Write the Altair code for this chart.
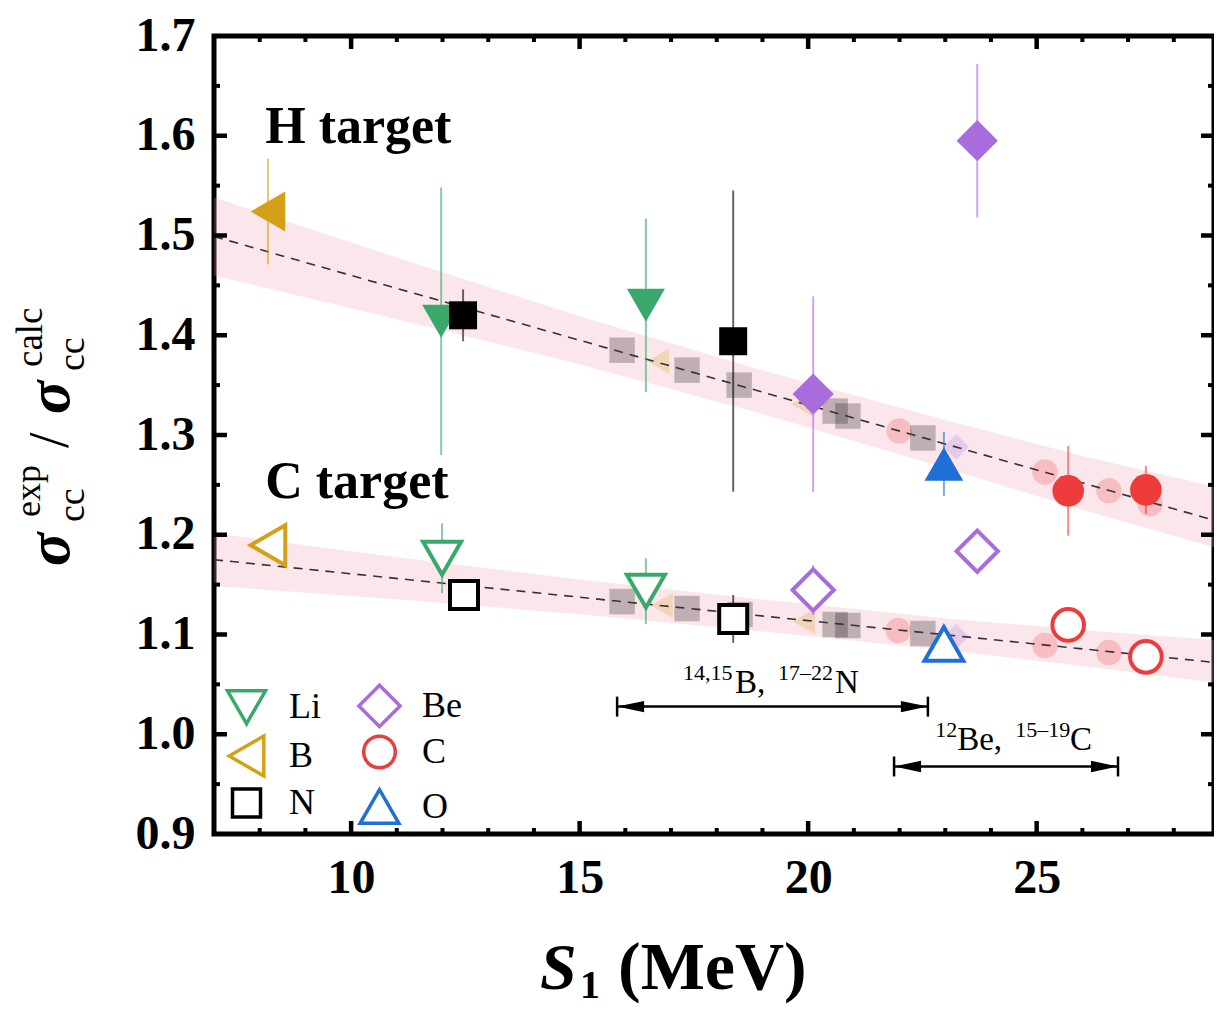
import altair as alt
import pandas as pd

# ---------------- data ----------------
elements = ["Li", "Be", "B", "C", "N", "O"]
el_colors = ["#38a86b", "#a86cdc", "#d4a017", "#ee3b3b", "#000000", "#1f6fd6"]
el_shapes = ["triangle-down", "diamond", "triangle-left", "circle", "square", "triangle-up"]
el_sizes = [1444, 1700, 1600, 1000, 784, 1500]

# H target (filled symbols)
h_el = ["B", "Li", "N", "Li", "N", "Be", "Be", "O", "C", "C"]
h_s1 = [8.18, 11.97, 12.45, 16.45, 18.36, 20.11, 23.70, 22.97, 25.69, 27.39]
h_val = [1.524, 1.414, 1.420, 1.430, 1.394, 1.341, 1.595, 1.271, 1.244, 1.245]
h_err = [0.053, 0.134, 0.026, 0.087, 0.151, 0.098, 0.077, 0.032, 0.045, 0.024]

# C target (open symbols)
c_el = ["B", "Li", "N", "Li", "N", "Be", "Be", "O", "C", "C"]
c_s1 = [8.18, 11.99, 12.47, 16.45, 18.36, 20.11, 23.70, 22.97, 25.69, 27.39]
c_val = [1.1895, 1.1765, 1.1396, 1.1435, 1.1156, 1.1446, 1.1835, 1.0906, 1.1096, 1.0776]
c_err = [0.0, 0.035, 0.010, 0.033, 0.024, 0.025, 0.0, 0.0, 0.0, 0.015]

# faded (calculated) points
fh_el = ["N", "B", "N", "N", "B", "N", "N", "C", "N", "Be", "C", "C", "C"]
fh_s1 = [15.93, 16.72, 17.35, 18.49, 19.87, 20.59, 20.87, 21.99, 22.51, 23.24, 25.18, 26.58, 27.48]
fh_val = [1.385, 1.374, 1.365, 1.350, 1.331, 1.324, 1.319, 1.304, 1.297, 1.288, 1.263, 1.244, 1.231]
fc_el = ["N", "B", "N", "N", "B", "N", "N", "C", "N", "Be", "C", "C"]
fc_s1 = [15.93, 16.80, 17.35, 18.51, 19.91, 20.59, 20.87, 21.97, 22.51, 23.24, 25.18, 26.58]
fc_val = [1.133, 1.129, 1.126, 1.120, 1.113, 1.110, 1.109, 1.104, 1.101, 1.098, 1.089, 1.082]

# fit lines and bands
fit_s1 = [7, 29]
fit_h = [1.499, 1.213]
fit_c = [1.175, 1.0715]
band_s1 = [7, 11, 15, 19, 23, 26, 29]
band_h_lo = [1.460, 1.416, 1.371, 1.321, 1.267, 1.225, 1.186]
band_h_hi = [1.538, 1.478, 1.419, 1.365, 1.315, 1.279, 1.247]
band_c_lo = [1.1485, 1.1354, 1.1202, 1.103, 1.0844, 1.0685, 1.051]
band_c_hi = [1.2015, 1.1774, 1.1552, 1.135, 1.1164, 1.1045, 1.094]

# panel labels
panel_txt = ["H target", "C target"]
panel_x = [8.12, 8.12]
panel_y = [1.593, 1.2365]

# range annotations
ann_sup = ["14,15", "17\u201322", "12", "15\u201319"]
ann_sup_x = [17.26, 19.34, 22.78, 24.53]
ann_sup_y = [1.0546, 1.0546, 0.9977, 0.9977]
ann_main = ["B,", "N", "Be,", "C"]
ann_main_x = [18.40, 20.59, 23.26, 25.73]
ann_main_y = [1.0417, 1.0417, 0.9847, 0.9847]
arr_x1 = [15.82, 21.88]
arr_x2 = [22.62, 26.78]
arr_y = [1.0277, 0.9677]

# axis ticks
x_major = [10, 15, 20, 25]
x_minor = [8, 9, 11, 12, 13, 14, 16, 17, 18, 19, 21, 22, 23, 24, 26, 27, 28]
y_labels = [0.9, 1.0, 1.1, 1.2, 1.3, 1.4, 1.5, 1.6, 1.7]
y_major = [1.0, 1.1, 1.2, 1.3, 1.4, 1.5, 1.6]
y_minor = [0.95, 1.05, 1.15, 1.25, 1.35, 1.45, 1.55, 1.65]

# ---------------- chart ----------------
W, H = 1000, 798
TOP = 28
FONT = "Liberation Serif"
xs = alt.Scale(domain=[7, 28.88], nice=False, zero=False)
ys = alt.Scale(domain=[0.9, 1.7], nice=False, zero=False)

x_axis = alt.Axis(values=x_major, labelFont=FONT, labelFontSize=48, labelFontWeight="bold",
                  labelColor="black", labelPadding=20, ticks=False, tickSize=0, domain=False,
                  grid=False, title=None, labelFlush=False)
y_axis = alt.Axis(values=y_labels, format=".1f", labelFont=FONT, labelFontSize=48,
                  labelFontWeight="bold", labelColor="black", labelPadding=19, ticks=False,
                  tickSize=0, domain=False, grid=False, title=None, labelFlush=False)


def X(f):
    return alt.X(f, scale=xs, axis=x_axis)


def Y(f):
    return alt.Y(f, scale=ys, axis=y_axis)


col_scale = alt.Scale(domain=elements, range=el_colors)
shp_scale = alt.Scale(domain=elements, range=el_shapes)
siz_scale = alt.Scale(type="ordinal", domain=elements, range=el_sizes)

bandH = pd.DataFrame({"s1": band_s1, "lo": band_h_lo, "hi": band_h_hi})
bandC = pd.DataFrame({"s1": band_s1, "lo": band_c_lo, "hi": band_c_hi})
band_layers = [
    alt.Chart(d).mark_area(color="#f0a0b0", opacity=0.25, clip=True).encode(
        x=X("s1:Q"), y=Y("lo:Q"), y2="hi:Q") for d in (bandH, bandC)
]

faded = pd.concat([
    pd.DataFrame({"el": fh_el, "s1": fh_s1, "v": fh_val}),
    pd.DataFrame({"el": fc_el, "s1": fc_s1, "v": fc_val}),
])
faded_layer = alt.Chart(faded).mark_point(filled=True, opacity=0.24, size=650).encode(
    x=X("s1:Q"), y=Y("v:Q"),
    color=alt.Color("el:N", scale=col_scale, legend=None),
    shape=alt.Shape("el:N", scale=shp_scale, legend=None))

fitH = pd.DataFrame({"s1": fit_s1, "v": fit_h})
fitC = pd.DataFrame({"s1": fit_s1, "v": fit_c})
fit_layers = [
    alt.Chart(d).mark_line(color="#333333", strokeDash=[9, 7], strokeWidth=1.6, clip=True).encode(
        x=X("s1:Q"), y=Y("v:Q")) for d in (fitH, fitC)
]

hdf = pd.DataFrame({"el": h_el, "s1": h_s1, "v": h_val, "e": h_err})
cdf = pd.DataFrame({"el": c_el, "s1": c_s1, "v": c_val, "e": c_err})
errs = pd.concat([hdf, cdf])
err_layer = alt.Chart(errs).transform_filter("datum.e > 0").transform_calculate(
    lo="datum.v - datum.e", hi="datum.v + datum.e").mark_rule(strokeWidth=2, opacity=0.6).encode(
    x=X("s1:Q"), y=Y("lo:Q"), y2="hi:Q",
    color=alt.Color("el:N", scale=col_scale, legend=None))

filled_layer = alt.Chart(hdf).mark_point(filled=True, opacity=1).encode(
    x=X("s1:Q"), y=Y("v:Q"),
    color=alt.Color("el:N", scale=col_scale, legend=None),
    shape=alt.Shape("el:N", scale=shp_scale, legend=None),
    size=alt.Size("el:N", scale=siz_scale, legend=None))

leg = alt.Legend(title=None, orient="none", legendX=10, legendY=647, columns=2, gridAlign="all",
                 direction="horizontal",
                 labelFont=FONT, labelFontSize=36, labelColor="black", labelOffset=20,
                 columnPadding=22, rowPadding=-10.5, padding=0, symbolStrokeWidth=3.5,
                 symbolOpacity=1)
open_layer = alt.Chart(cdf).mark_point(filled=False, fill="white", strokeWidth=4, opacity=1).encode(
    x=X("s1:Q"), y=Y("v:Q"),
    color=alt.Color("el:N", scale=col_scale, legend=leg),
    shape=alt.Shape("el:N", scale=shp_scale, legend=leg),
    size=alt.Size("el:N", scale=siz_scale, legend=leg))

panel_layer = alt.Chart(pd.DataFrame({"t": panel_txt, "s1": panel_x, "v": panel_y})).mark_text(
    font=FONT, fontSize=52, fontWeight="bold", align="left", baseline="alphabetic", color="black").encode(
    x=X("s1:Q"), y=Y("v:Q"), text="t:N")

sup_layer = alt.Chart(pd.DataFrame({"t": ann_sup, "s1": ann_sup_x, "v": ann_sup_y})).mark_text(
    font=FONT, fontSize=22, align="left", baseline="alphabetic", color="black").encode(
    x=X("s1:Q"), y=Y("v:Q"), text="t:N")
main_layer = alt.Chart(pd.DataFrame({"t": ann_main, "s1": ann_main_x, "v": ann_main_y})).mark_text(
    font=FONT, fontSize=33, align="left", baseline="alphabetic", color="black").encode(
    x=X("s1:Q"), y=Y("v:Q"), text="t:N")

arr = pd.DataFrame({"x1": arr_x1, "x2": arr_x2, "v": arr_y})
arrow_layers = [
    alt.Chart(arr).mark_rule(color="black", strokeWidth=2.5).encode(
        x=X("x1:Q"), x2="x2:Q", y=Y("v:Q")),
    alt.Chart(arr).transform_calculate(lo="datum.v - 0.01", hi="datum.v + 0.01").mark_rule(
        color="black", strokeWidth=2.5).encode(x=X("x1:Q"), y=Y("lo:Q"), y2="hi:Q"),
    alt.Chart(arr).transform_calculate(lo="datum.v - 0.01", hi="datum.v + 0.01").mark_rule(
        color="black", strokeWidth=2.5).encode(x=X("x2:Q"), y=Y("lo:Q"), y2="hi:Q"),
    alt.Chart(arr).mark_point(shape="M0,0 L2,-0.42 L2,0.42 Z", size=729, filled=True,
                              color="black", opacity=1).encode(x=X("x1:Q"), y=Y("v:Q")),
    alt.Chart(arr).mark_point(shape="M0,0 L-2,-0.42 L-2,0.42 Z", size=729, filled=True,
                              color="black", opacity=1).encode(x=X("x2:Q"), y=Y("v:Q")),
]


def xticks(vals, length, width):
    d = pd.DataFrame({"t": vals})
    return [
        alt.Chart(d).mark_rule(color="black", strokeWidth=width).encode(
            x=X("t:Q"), y=alt.value(H), y2=alt.value(H - length)),
        alt.Chart(d).mark_rule(color="black", strokeWidth=width).encode(
            x=X("t:Q"), y=alt.value(0), y2=alt.value(length)),
    ]


def yticks(vals, length, width):
    d = pd.DataFrame({"t": vals})
    return [
        alt.Chart(d).mark_rule(color="black", strokeWidth=width).encode(
            y=Y("t:Q"), x=alt.value(0), x2=alt.value(length)),
        alt.Chart(d).mark_rule(color="black", strokeWidth=width).encode(
            y=Y("t:Q"), x=alt.value(W), x2=alt.value(W - length)),
    ]


tick_layers = (xticks(x_major, 13, 4.5) + xticks(x_minor, 6, 4) +
               yticks(y_major, 13, 4.5) + yticks(y_minor, 6, 4))

one = pd.DataFrame({"a": [0]})


def txt(s, x, y, size, weight="normal", style="normal", angle=0):
    kw = dict(text=s, font=FONT, fontSize=size, fontWeight=weight, fontStyle=style,
              align="left", baseline="alphabetic", color="black")
    if angle:
        kw["angle"] = angle
    return alt.Chart(one).mark_text(**kw).encode(x=alt.value(x), y=alt.value(y))


dy = 23 - TOP  # keep titles at the same page position
title_layers = [
    # x title: S_1 (MeV)
    txt("S", 326, 958 + dy, 66, "bold", "italic"),
    txt("1", 366, 967 + dy, 40, "bold"),
    txt("(MeV)", 404, 958 + dy, 68, "bold"),
    # y title: sigma_cc^exp / sigma_cc^calc
    txt("\u03c3", -145, 535 + dy, 62, "bold", "italic", 270),
    txt("cc", -130, 491 + dy, 38, "normal", "normal", 270),
    txt("exp", -174, 486 + dy, 36, "normal", "normal", 270),
    txt("/", -146, 417 + dy, 56, "normal", "normal", 270),
    txt("\u03c3", -145, 383 + dy, 62, "bold", "italic", 270),
    txt("cc", -130, 340 + dy, 38, "normal", "normal", 270),
    txt("calc", -172, 336 + dy, 37, "normal", "normal", 270),
]

chart = alt.layer(
    *band_layers, faded_layer, *fit_layers, err_layer, filled_layer, open_layer,
    panel_layer, sup_layer, main_layer, *arrow_layers, *tick_layers, *title_layers
).resolve_legend(
    color="independent", shape="independent", size="independent"
).properties(
    width=W, height=H,
    autosize=alt.AutoSizeParams(type="none"),
    padding={"left": 206, "top": TOP, "right": 0, "bottom": 999 - TOP - H},
).configure_view(stroke="black", strokeWidth=5)

chart.save("out.html", embed_options={"renderer": "svg", "actions": False})
